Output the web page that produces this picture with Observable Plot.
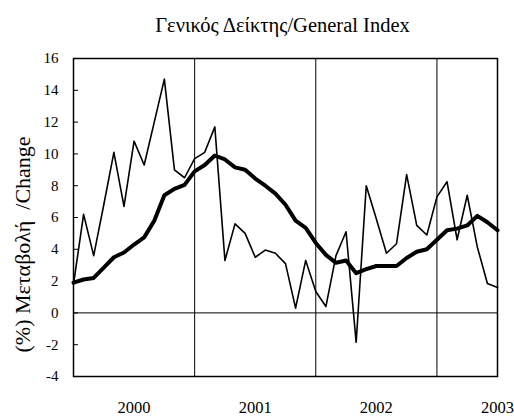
<!DOCTYPE html>
<html><head><meta charset="utf-8">
<script src="https://cdn.jsdelivr.net/npm/d3@7"></script>
<script src="https://cdn.jsdelivr.net/npm/@observablehq/plot@0.6"></script>
<style>
body{margin:0;background:#fff}
svg{display:block}
svg, svg text{font-family:"Liberation Serif","Times New Roman",serif !important;}
</style>
</head><body><div id="chart"></div>
<script>
const months = [
  "2000-01","2000-02","2000-03","2000-04","2000-05","2000-06","2000-07","2000-08","2000-09","2000-10","2000-11","2000-12",
  "2001-01","2001-02","2001-03","2001-04","2001-05","2001-06","2001-07","2001-08","2001-09","2001-10","2001-11","2001-12",
  "2002-01","2002-02","2002-03","2002-04","2002-05","2002-06","2002-07","2002-08","2002-09","2002-10","2002-11","2002-12",
  "2003-01","2003-02","2003-03","2003-04","2003-05","2003-06","2003-07"
];
const monthly = [
  1.8, 6.2, 3.6, 6.8, 10.1, 6.7, 10.8, 9.3, 12.0, 14.7, 9.0, 8.5,
  9.7, 10.1, 11.7, 3.3, 5.6, 5.0, 3.5, 3.95, 3.75, 3.1, 0.3, 3.3,
  1.35, 0.4, 3.6, 5.1, -1.85, 8.0, 5.9, 3.75, 4.35, 8.7, 5.5, 4.9,
  7.3, 8.25, 4.6, 7.4, 4.15, 1.85, 1.6
];
const trend = [
  1.9, 2.1, 2.2, 2.85, 3.5, 3.8, 4.3, 4.75, 5.8, 7.4, 7.8, 8.05,
  8.9, 9.3, 9.9, 9.65, 9.15, 9.0, 8.45, 8.0, 7.5, 6.8, 5.8, 5.35,
  4.4, 3.65, 3.15, 3.3, 2.5, 2.75, 2.95, 2.95, 2.95, 3.45, 3.85, 4.0,
  4.6, 5.2, 5.3, 5.5, 6.1, 5.7, 5.2
];
const yTicks = [-4, -2, 0, 2, 4, 6, 8, 10, 12, 14, 16];
const yearLabels = ["2000", "2001", "2002", "2003"];
const titleText = "Γενικός Δείκτης/General Index";
const yLabelText = "(%) Μεταβολή  /Change";

const rows = months.map((m, i) => ({i, m, monthly: monthly[i], trend: trend[i]}));
const labelPos = yearLabels.map(y => months.indexOf(y + "-07"));
const yearStarts = yearLabels.slice(1).map(y => months.indexOf(y + "-01"));

const chart = Plot.plot({
  width: 514, height: 416,
  marginTop: 58, marginBottom: 40, marginLeft: 73, marginRight: 17,
  style: {fontFamily: "'Liberation Serif', 'Times New Roman', serif", fontSize: "15px", color: "#000", background: "#fff"},
  x: {domain: [0, months.length - 1]},
  y: {domain: [-4, 16]},
  marks: [
    Plot.ruleY([0], {stroke: "#000", strokeWidth: 1}),
    Plot.ruleX(yearStarts, {stroke: "#000", strokeWidth: 1}),
    Plot.lineY(rows, {x: "i", y: "monthly", stroke: "#000", strokeWidth: 1.6}),
    Plot.lineY(rows, {x: "i", y: "trend", stroke: "#000", strokeWidth: 4, strokeLinejoin: "round"}),
    Plot.frame({stroke: "#000", strokeWidth: 1.5}),
    Plot.axisY(yTicks, {tickSize: -5, tickPadding: 20, label: null, tickFormat: d => String(d), fontSize: 15}),
    Plot.axisX(labelPos, {tickSize: 0, tickPadding: 25, label: null, tickFormat: d => yearLabels[labelPos.indexOf(d)], fontSize: 16.5}),
    Plot.text([titleText], {frameAnchor: "top", lineAnchor: "middle", dx: -3, dy: -33, fontSize: 20.5}),
    Plot.text([yLabelText], {frameAnchor: "left", textAnchor: "start", lineAnchor: "bottom", dx: -44, dy: 135, rotate: -90, fontSize: 22})
  ]
});
document.getElementById("chart").appendChild(chart);
</script>
</body></html>
